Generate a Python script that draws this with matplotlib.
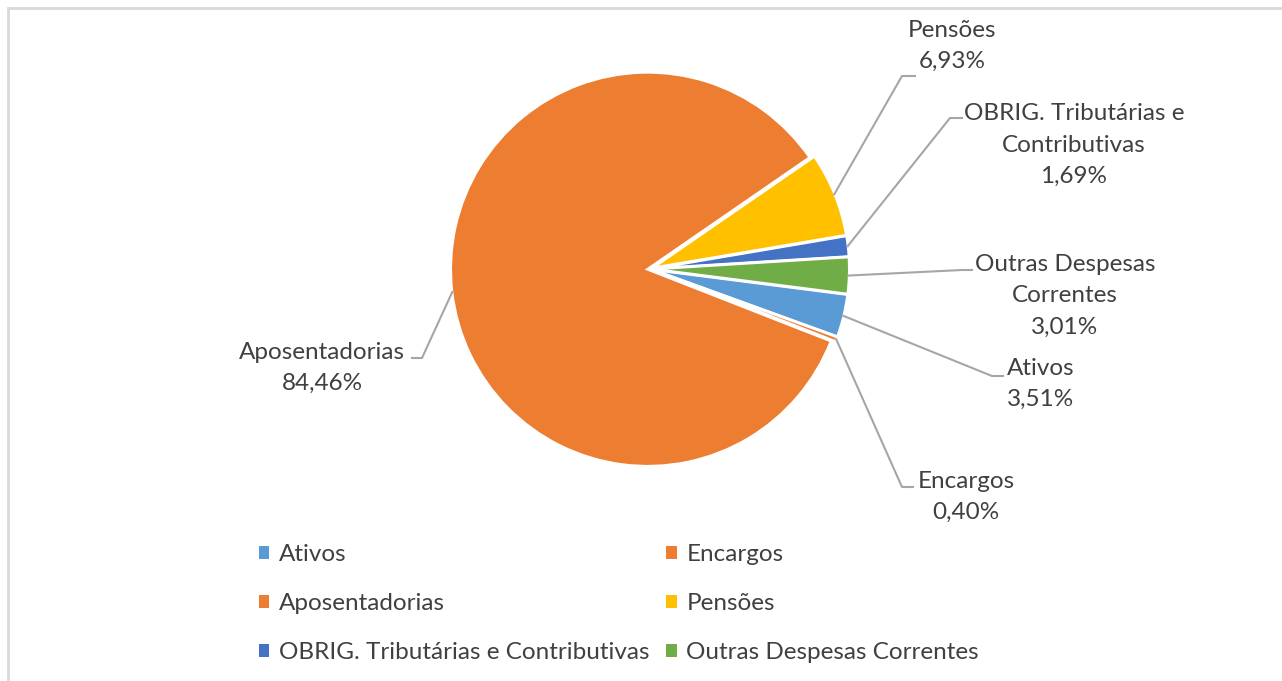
import matplotlib
matplotlib.use("Agg")
import matplotlib.pyplot as plt
from matplotlib.patches import Patch, Rectangle
import numpy as np

plt.rcParams['font.family'] = ['Lato', 'DejaVu Sans']

# dados
categorias = ['Ativos', 'Encargos', 'Aposentadorias', 'Pensões',
              'OBRIG. Tributárias e Contributivas', 'Outras Despesas Correntes']
percentuais = [3.51, 0.40, 84.46, 6.93, 1.69, 3.01]
rotulos = ['Ativos', 'Encargos', 'Aposentadorias', 'Pensões',
           'OBRIG. Tributárias e\nContributivas', 'Outras Despesas\nCorrentes']
cores = ['#5B9BD5', '#ED7D31', '#ED7D31', '#FFC000', '#4472C4', '#70AD47']

W, H = 1282, 681
cx, cy, r = 650, 269, 197

fig = plt.figure(figsize=(W / 100, H / 100), dpi=100)
ax = fig.add_axes([(cx - r) / W, (H - cy - r) / H, 2 * r / W, 2 * r / H])

wedges, _ = ax.pie(percentuais, colors=cores, startangle=-7.3, counterclock=False,
                   explode=[0.012] * len(percentuais),
                   wedgeprops=dict(edgecolor='white', linewidth=2))
ax.set_xlim(-1, 1)
ax.set_ylim(-1, 1)
ax.set_aspect('auto')
ax.axis('off')


def px(x, y):
    # pixel -> coordenadas de dados do eixo
    return (x - cx) / r, (cy - y) / r


# posicoes dos rotulos (pixels): centro do texto, cotovelo, fim da linha
texto_pos = [(1041, 384), (966, 497), (322, 368), (952, 46), (1074, 145), (1065, 296)]
cotovelo = [(992, 376), (902, 487), (422, 358), (902, 76), (950, 118), (962, 270)]
fim_linha = [(1003, 376), (913, 487), (412, 358), (915, 76), (962, 118), (972, 270)]

for w, lab, p, tp, cp, fp in zip(wedges, rotulos, percentuais, texto_pos, cotovelo, fim_linha):
    ang = np.deg2rad((w.theta1 + w.theta2) / 2)
    x0, y0 = 1.01 * np.cos(ang), 1.01 * np.sin(ang)
    x1, y1 = px(*cp)
    x2, y2 = px(*fp)
    ax.plot([x0, x1, x2], [y0, y1, y2], color='#A6A6A6', lw=1.5, clip_on=False)
    tx, ty = px(*tp)
    txt = lab + '\n' + ('%.2f' % p).replace('.', ',') + '%'
    ax.text(tx, ty, txt, ha='center', va='center', fontsize=17.5, color='#404040',
            linespacing=1.6)

# legenda (ordem por linhas)
handles = [Patch(facecolor=c, edgecolor='none', label=l) for c, l in zip(cores, categorias)]
ordem = [0, 2, 4, 1, 3, 5]
fig.legend([handles[i] for i in ordem], [categorias[i] for i in ordem], ncol=2,
           loc='upper left', bbox_to_anchor=(259 / W, 1 - 544 / H), frameon=False,
           fontsize=17.5, labelcolor='#404040', handlelength=0.42, handleheight=0.42,
           handletextpad=0.4, columnspacing=0.7, labelspacing=1.15, borderpad=0,
           borderaxespad=0)

# borda do grafico
fig.add_artist(Rectangle((7.5 / W, -0.1), 1.1, (H - 7.5) / H + 0.1, transform=fig.transFigure,
                         fill=False, edgecolor='#D9D9D9', linewidth=2))

fig.savefig('out.png', dpi=100, facecolor='white')
